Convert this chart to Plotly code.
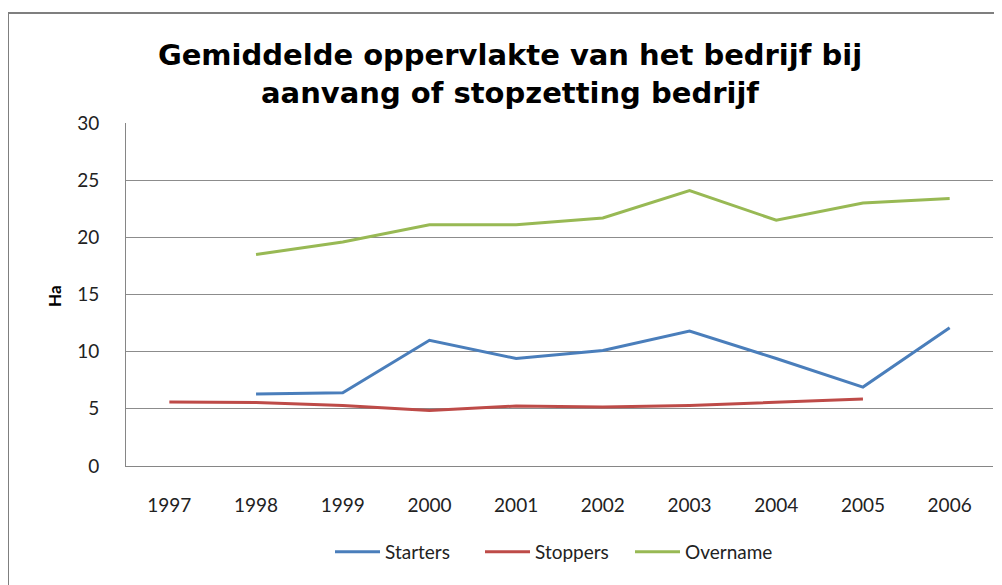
import plotly.graph_objects as go

# Gegevens
jaren = ["1997", "1998", "1999", "2000", "2001", "2002", "2003", "2004", "2005", "2006"]
starters = [None, 6.3, 6.4, 11.0, 9.4, 10.1, 11.8, 9.4, 6.9, 12.1]
stoppers = [5.6, 5.55, 5.3, 4.85, 5.25, 5.15, 5.3, 5.55, 5.85, None]
overname = [None, 18.5, 19.6, 21.1, 21.1, 21.7, 24.1, 21.5, 23.0, 23.4]
y_ticks = [0, 5, 10, 15, 20, 25, 30]

FONT = "Lato"
W, H = 994, 577          # pagina heeft 8px marge rond de figuur
L, R, T, B = 118, 9, 115, 119
PW, PH = W - L - R, H - T - B

fig = go.Figure()
fig.add_trace(go.Scatter(x=jaren, y=starters, mode="lines", name="Starters",
                         line=dict(color="#4A7EBB", width=3)))
fig.add_trace(go.Scatter(x=jaren, y=stoppers, mode="lines", name="Stoppers",
                         line=dict(color="#BE4B48", width=3)))
fig.add_trace(go.Scatter(x=jaren, y=overname, mode="lines", name="Overname",
                         line=dict(color="#98B954", width=3)))

fig.update_layout(
    width=W, height=H,
    margin=dict(l=L, r=R, t=T, b=B),
    paper_bgcolor="white", plot_bgcolor="white",
    font=dict(family=FONT, color="#222222", size=19),
    title=dict(text="<b>Gemiddelde oppervlakte van het bedrijf bij<br>aanvang of stopzetting bedrijf</b>",
               x=502 / W, xanchor="center", y=1 - 57 / H, yanchor="middle",
               font=dict(family="DejaVu Sans", size=29, color="black")),
    legend=dict(orientation="h", x=(322 - L) / PW, xanchor="left", y=-(544 - 458) / PH,
                yanchor="middle", font=dict(size=19), itemwidth=45, tracegroupgap=0,
                entrywidth=90, entrywidthmode="pixels"),
    showlegend=True,
)

fig.update_xaxes(type="category", range=[-0.5, 9.5], showgrid=False, showline=True,
                 linecolor="#868686", linewidth=1, ticks="", ticklabelstandoff=22,
                 fixedrange=True)
fig.update_yaxes(range=[0, 30], tickvals=y_ticks, showgrid=True, gridcolor="#8C8C8C",
                 gridwidth=1, showline=True, linecolor="#868686", linewidth=1,
                 ticks="", ticklabelstandoff=22, zeroline=False)

# As-titel "Ha"
fig.add_annotation(text="<b>Ha</b>", xref="paper", yref="paper",
                   x=(46 - L) / PW, y=(458 - 288) / PH, textangle=-90,
                   xanchor="center", yanchor="middle",
                   showarrow=False, font=dict(family=FONT, size=17, color="black"))

# Kader rond de grafiek
fig.add_shape(type="rect", xref="paper", yref="paper",
              x0=(0 - L) / PW, x1=1.2, y0=-0.6, y1=1 + (T - 5) / PH,
              line=dict(color="#7F7F7F", width=2), layer="below")

fig.write_html("out.html")
